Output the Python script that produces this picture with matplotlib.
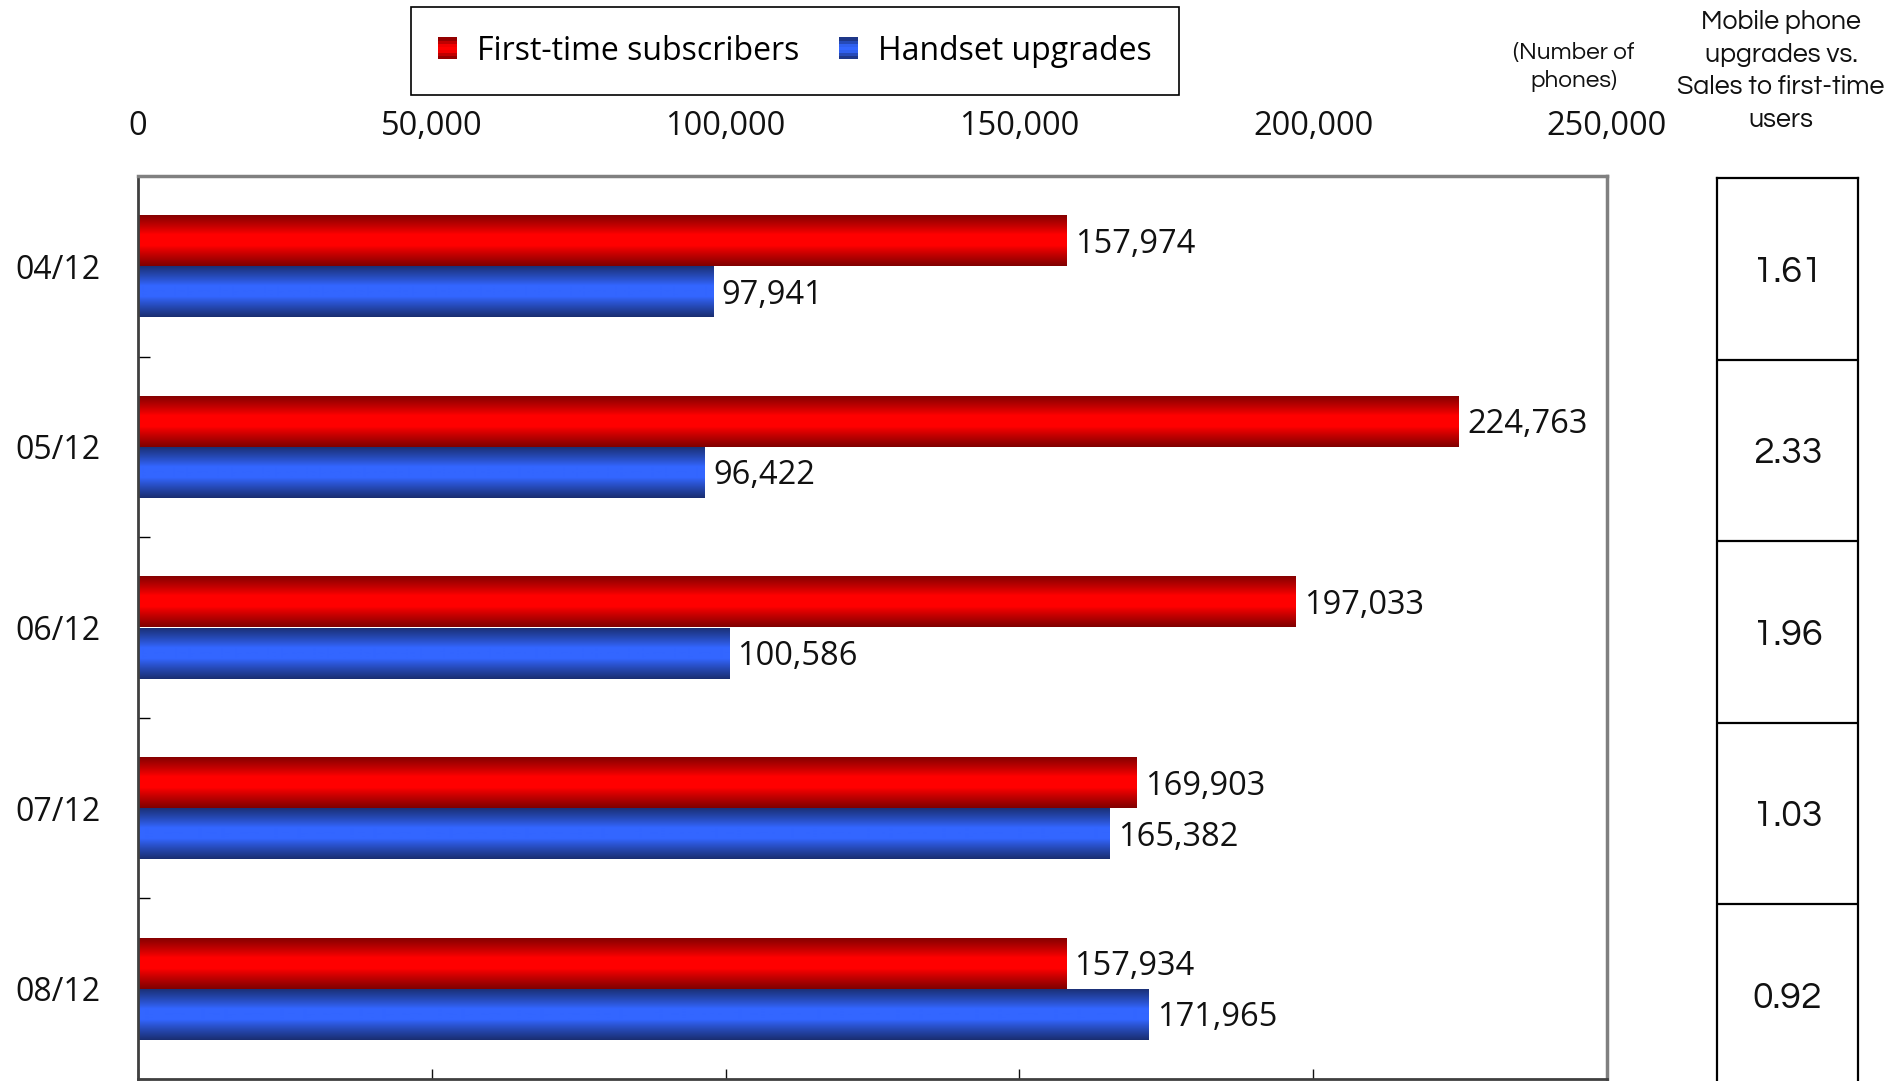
import matplotlib
matplotlib.use("Agg")
import matplotlib.pyplot as plt
import numpy as np
from matplotlib.colors import LinearSegmentedColormap
from matplotlib.legend_handler import HandlerBase
from matplotlib.patches import Patch, Rectangle

months = ["04/12", "05/12", "06/12", "07/12", "08/12"]
first_time = [157974, 224763, 197033, 169903, 157934]
upgrades = [97941, 96422, 100586, 165382, 171965]
x_ticks = [0, 50000, 100000, 150000, 200000, 250000]

SANS = ["Open Sans", "DejaVu Sans"]
ROUND = ["Questrial", "DejaVu Sans"]


def shaded_cmap(name, dark, bright):
    # dark edges, bright flat-ish middle: a lit-cylinder look
    u = np.linspace(0, 1, 256)
    t = np.clip((np.abs(2 * u - 1) - 0.22) / 0.78, 0, 1) ** 0.9
    dark, bright = np.array(dark), np.array(bright)
    cols = bright[None, :] * (1 - t[:, None]) + dark[None, :] * t[:, None]
    return LinearSegmentedColormap.from_list(name, cols)


red_cmap = shaded_cmap("red_tube", (0.50, 0.0, 0.0), (1.0, 0.0, 0.0))
blue_cmap = shaded_cmap("blue_tube", (0.10, 0.18, 0.44), (0.20, 0.40, 1.0))
GRAD = np.linspace(0, 1, 256).reshape(-1, 1)


def shade_bars(ax, bars, cmap):
    for bar in bars:
        x0, y0 = bar.get_xy()
        w, h = bar.get_width(), bar.get_height()
        bar.set_facecolor("none")
        bar.set_edgecolor("none")
        im = ax.imshow(GRAD, cmap=cmap, aspect="auto", interpolation="bilinear",
                       extent=(x0, x0 + w, y0 + h, y0), zorder=2)
        im.set_clip_path(bar)


class StripeHandler(HandlerBase):
    def create_artists(self, legend, orig_handle, xdescent, ydescent,
                       width, height, fontsize, trans):
        n = 7
        out = []
        for i in range(n):
            c = orig_handle.cmap((i + 0.5) / n)
            out.append(Rectangle((-xdescent, -ydescent + height * i / n), width,
                                 height / n + 0.3, facecolor=c, edgecolor="none",
                                 transform=trans))
        return out


W, H = 1887, 1081
fig = plt.figure(figsize=(W / 100, H / 100), dpi=100)
ax = fig.add_axes([138 / W, 2 / H, 1469 / W, 903 / H])

pos = np.arange(len(months))
bh = 0.283
red_bars = ax.barh(pos - bh / 2, first_time, height=bh, zorder=2)
blue_bars = ax.barh(pos + bh / 2, upgrades, height=bh, zorder=2)
shade_bars(ax, red_bars, red_cmap)
shade_bars(ax, blue_bars, blue_cmap)

for bars in (red_bars, blue_bars):
    labels = ax.bar_label(bars, labels=[f"{v:,.0f}" for v in bars.datavalues],
                          padding=6, fontsize=23.5, family=SANS, color="#111111")
    for lab in labels:
        lab.xyann = (6, -2.5)  # sit the numbers a touch below bar centre

ax.set_xlim(0, 250000)
ax.set_ylim(len(months) - 0.5, -0.5)
ax.set_xticks(x_ticks)
ax.set_xticklabels([f"{v:,}" for v in x_ticks], family=SANS, fontsize=23.5)
ax.tick_params(axis="x", top=False, bottom=True, labeltop=True, labelbottom=False,
               direction="in", length=7.5, width=1, pad=23.5, colors="#111111")
ax.set_yticks(pos)
ax.set_yticklabels(months, family=SANS, fontsize=23)
ax.set_yticks(np.arange(len(months) + 1) - 0.5, minor=True)
ax.tick_params(axis="y", which="major", length=0, pad=27, colors="#111111")
ax.tick_params(axis="y", which="minor", direction="in", length=8.5, width=1)

for side in ("left", "bottom"):
    ax.spines[side].set_color("#404040")
    ax.spines[side].set_linewidth(2)
for side in ("top", "right"):
    ax.spines[side].set_color("#808080")
    ax.spines[side].set_linewidth(2.5)

# legend with striped swatches
h_red = Patch(label="First-time subscribers")
h_red.cmap = red_cmap
h_blue = Patch(label="Handset upgrades")
h_blue.cmap = blue_cmap
leg = fig.legend(handles=[h_red, h_blue], handler_map={Patch: StripeHandler()},
                 loc="center", bbox_to_anchor=(795 / W, 1 - 51 / H), ncol=2,
                 prop={"family": SANS, "size": 23}, frameon=True, fancybox=False,
                 edgecolor="black", framealpha=1, borderpad=0.85, handlelength=0.6,
                 handleheight=0.65, handletextpad=0.62, columnspacing=1.25)
leg.get_frame().set_linewidth(1.2)

fig.text(1574 / W, 1 - 67 / H, "(Number of\nphones)", family=ROUND, fontsize=17.5,
         ha="center", va="center", linespacing=1.3, color="#111111")
fig.text(1781 / W, 1 - 71 / H, "Mobile phone\nupgrades vs.\nSales to first-time\nusers",
         family=ROUND, fontsize=19.3, ha="center", va="center", linespacing=1.45,
         multialignment="center", color="#111111")

# ratio column: upgrades vs first-time sales
ratios = [f / u for f, u in zip(first_time, upgrades)]
tab = fig.add_axes([1717 / W, -4.5 / H, 141 / W, 907.5 / H])
tab.set_xlim(0, 1)
tab.set_ylim(len(months) - 0.5, -0.5)
tab.set_xticks([])
tab.set_yticks([])
for side in tab.spines.values():
    side.set_linewidth(1.6)
    side.set_color("black")
for b in np.arange(1, len(months)) - 0.5:
    tab.axhline(b, color="black", lw=1.6)
for i, r in enumerate(ratios):
    tab.text(0.5, i + 0.02, f"{r:.2f}", ha="center", va="center", family=ROUND,
             fontsize=27, color="#111111")

fig.savefig("out.png", dpi=100)
